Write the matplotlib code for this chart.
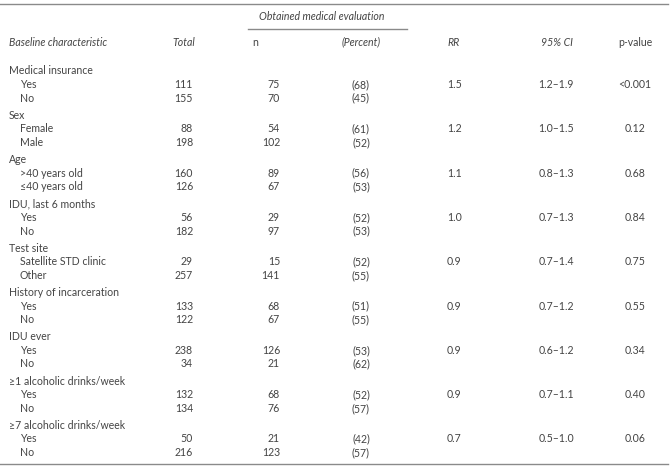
import matplotlib
matplotlib.use("Agg")
import matplotlib.pyplot as plt

groups = ["Medical insurance", "Sex", "Age", "IDU, last 6 months", "Test site",
          "History of incarceration", "IDU ever", "\u22651 alcoholic drinks/week",
          "\u22657 alcoholic drinks/week"]
levels = [["Yes", "No"], ["Female", "Male"], [">40 years old", "\u226440 years old"],
          ["Yes", "No"], ["Satellite STD clinic", "Other"], ["Yes", "No"],
          ["Yes", "No"], ["Yes", "No"], ["Yes", "No"]]
totals = [[111, 155], [88, 198], [160, 126], [56, 182], [29, 257], [133, 122],
          [238, 34], [132, 134], [50, 216]]
n_eval = [[75, 70], [54, 102], [89, 67], [29, 97], [15, 141], [68, 67],
          [126, 21], [68, 76], [21, 123]]
percent = [[68, 45], [61, 52], [56, 53], [52, 53], [52, 55], [51, 55],
           [53, 62], [52, 57], [42, 57]]
rr = ["1.5", "1.2", "1.1", "1.0", "0.9", "0.9", "0.9", "0.9", "0.7"]
ci = ["1.2\u20131.9", "1.0\u20131.5", "0.8\u20131.3", "0.7\u20131.3", "0.7\u20131.4",
      "0.7\u20131.2", "0.6\u20131.2", "0.7\u20131.1", "0.5\u20131.0"]
pval = ["<0.001", "0.12", "0.68", "0.84", "0.75", "0.55", "0.34", "0.40", "0.06"]

W, H = 670, 466
fig = plt.figure(figsize=(W / 100, H / 100), dpi=100)
ax = fig.add_axes([0, 0, 1, 1])
ax.set_xlim(0, W)
ax.set_ylim(H, 0)
ax.axis("off")

FONT = "Lato"
FS = 7.6
TC = "#444444"
LC = "#8a8a8a"

def t(x, y, s, ha="left", style="normal"):
    ax.text(x, y, s, ha=ha, va="center", fontsize=FS, color=TC,
            family=[FONT, "DejaVu Sans"], style=style)

# rules
ax.plot([0, 668], [4, 4], color=LC, lw=1.0)
ax.plot([248, 407], [29, 29], color=LC, lw=1.0)
ax.plot([0, 668], [464, 464], color=LC, lw=1.0)

# headers
t(322, 17, "Obtained medical evaluation", ha="center", style="italic")
hy = 42
t(9, hy, "Baseline characteristic", style="italic")
t(195, hy, "Total", ha="right", style="italic")
t(255, hy, "n", ha="center")
t(361, hy, "(Percent)", ha="center", style="italic")
t(447, hy, "RR", style="italic")
t(557, hy, "95% CI", ha="center", style="italic")
t(635, hy, "p-value", ha="center")

y0, period, step = 71, 44.3, 13.6
for g, name in enumerate(groups):
    yg = y0 + g * period
    t(9, yg, name)
    for k in range(2):
        yk = yg + step * (k + 1)
        t(20, yk, levels[g][k])
        t(193, yk, str(totals[g][k]), ha="right")
        t(280, yk, str(n_eval[g][k]), ha="right")
        t(361, yk, f"({percent[g][k]})", ha="center")
    y1 = yg + step
    t(447, y1, rr[g])
    t(556, y1, ci[g], ha="center")
    t(635, y1, pval[g], ha="center")

fig.savefig("out.png", dpi=100)
